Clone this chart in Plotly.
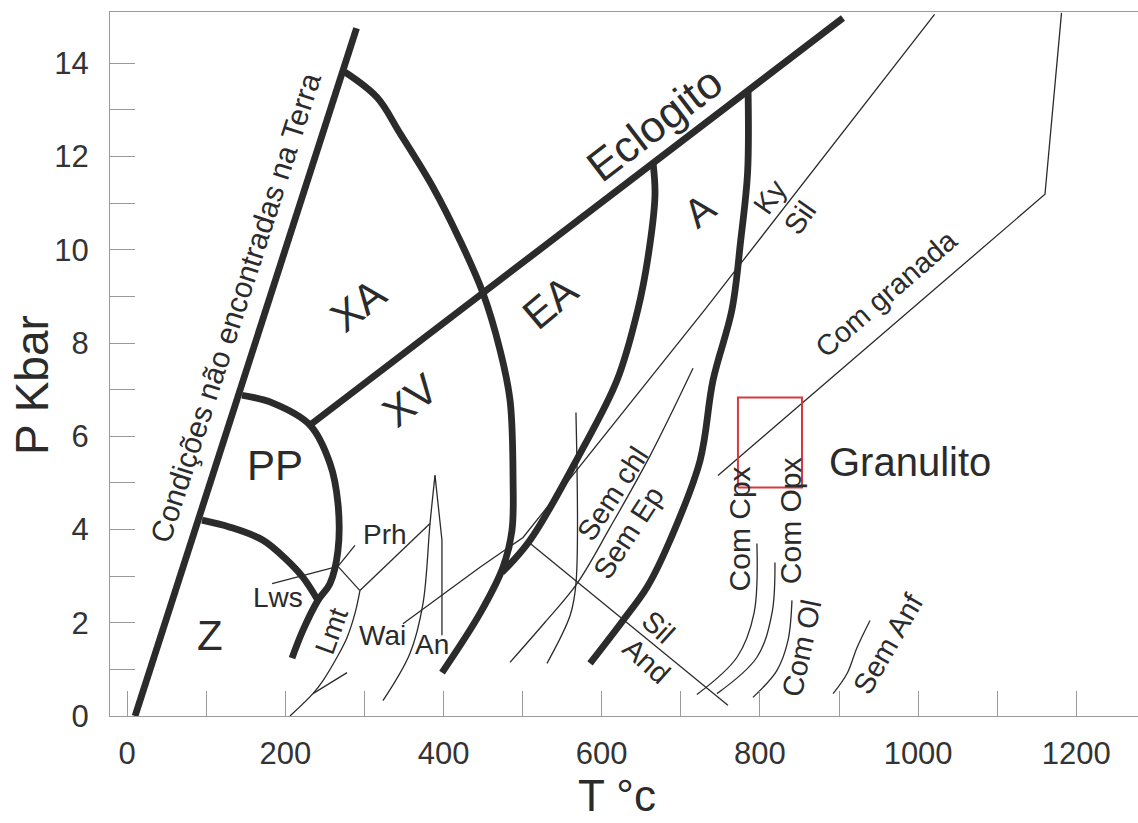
import plotly.graph_objects as go

# ---------------- axis ticks ----------------
x_tick_vals = [0, 100, 200, 300, 400, 500, 600, 700, 800, 900, 1000, 1100, 1200]
x_tick_text = ["0", "", "200", "", "400", "", "600", "", "800", "", "1000", "", "1200"]
y_tick_vals = [0, 1, 2, 3, 4, 5, 6, 7, 8, 9, 10, 11, 12, 13, 14]
y_tick_text = ["0", "", "2", "", "4", "", "6", "", "8", "", "10", "", "12", "", "14"]

# ---------------- thick facies boundaries (T in °C, P in kbar) ----------------
terra_T = [10, 290]
terra_P = [0.0, 14.75]

eclogito_T = [231, 905]
eclogito_P = [6.24, 14.97]

pp_T = [145.2, 184.3, 231.1, 256.4, 266.5, 266.5, 256.4, 241.2, 222.3, 208.4]
pp_P = [6.88, 6.71, 6.24, 5.42, 4.56, 3.55, 2.84, 2.48, 1.84, 1.24]

z_pp_T = [94.6, 130.0, 171.8, 202.2, 222.4, 241.2]
z_pp_P = [4.20, 4.05, 3.77, 3.34, 2.97, 2.48]

xa_ea_T = [275.4, 315.8, 344.9, 386.7, 420.8, 449.9, 471.4, 484.1, 487.9, 486.5, 475.2, 446.1, 398.1]
xa_ea_P = [13.81, 13.27, 12.50, 11.34, 10.20, 9.07, 7.85, 6.77, 5.06, 3.98, 3.19, 2.20, 0.93]

ea_a_T = [665.0, 667.3, 658.5, 645.7, 619.3, 572.5, 509.3, 473.9]
ea_a_P = [11.85, 11.16, 9.84, 8.72, 7.20, 5.63, 3.77, 3.08]

a_gran_T = [785.0, 784.4, 775.7, 764.7, 740.7, 724.3, 686.4, 657.2, 626.9, 585.2]
a_gran_P = [13.42, 11.66, 10.20, 8.72, 7.20, 5.48, 3.77, 2.76, 2.05, 1.13]

# ---------------- thin reaction lines ----------------
ky_T = [348.7, 446.1, 500.5, 731.9, 1020.8]
ky_P = [1.98, 3.19, 3.83, 8.75, 15.05]

and_sil_T = [509.6, 759.5]
and_sil_P = [3.70, 0.23]

sem_chl_T = [484.0, 528.3, 568.7, 610.4, 661.3, 715.4]
sem_chl_P = [1.15, 2.01, 2.84, 4.04, 5.59, 7.46]

vert_T = [567.4, 567.4, 560.1, 530.8]
vert_P = [6.51, 2.84, 2.16, 1.13]

an_T = [389.2, 398.0, 398.0]
an_P = [5.16, 3.77, 1.73]

wai_T = [389.2, 382.9, 374.0, 357.5, 323.4]
wai_P = [5.16, 4.13, 2.41, 1.34, 0.33]

prh_an_T = [294.3, 382.9]
prh_an_P = [2.69, 4.13]

lmt_T = [294.3, 288.0, 277.9, 265.3, 247.6, 234.9, 205.8]
lmt_P = [2.69, 2.20, 1.68, 1.26, 0.76, 0.48, 0.0]

lmt_branch_T = [234.9, 278.0]
lmt_branch_P = [0.48, 0.93]

lws_T = [183.2, 266.5]
lws_P = [2.84, 3.21]

prh_T = [266.5, 288.0]
prh_P = [3.21, 3.66]

link_T = [266.5, 294.3]
link_P = [3.21, 2.69]

com_cpx_T = [796.2, 792.5, 771.0, 720.3]
com_cpx_P = [3.70, 2.20, 1.26, 0.46]

com_opx_T = [819.0, 815.2, 796.2, 745.7]
com_opx_P = [3.29, 2.20, 1.26, 0.48]

com_ol_T = [840.5, 835.5, 821.6, 791.2]
com_ol_P = [2.48, 1.62, 0.98, 0.40]

sem_anf_T = [939.2, 922.8, 910.2, 892.5]
sem_anf_P = [2.05, 1.47, 0.91, 0.48]

granada_T = [747.0, 1160.4, 1181.3]
granada_P = [5.16, 11.19, 15.08]

box_T = [772.2, 853.2]
box_P = [4.90, 6.83]

# ---------------- labels ----------------
label_text = ["Condições não encontradas na Terra", "Eclogito", "XA", "XV", "EA", "A",
              "PP", "Z", "Granulito", "Prh", "Lws", "Lmt", "Wai", "An",
              "Sem chl", "Sem Ep", "Sil", "And", "Ky", "Sil", "Com granada",
              "Com Cpx", "Com Opx", "Com Ol", "Sem Anf"]
label_T = [136.6, 667.3, 291.8, 357.5, 534.6, 724.2,
           187.0, 104.7, 989.6, 325.9, 190.7, 258.9, 323.4, 385.4,
           613.0, 634.4, 671.1, 657.2, 812.5, 850.4, 960.6,
           774.6, 838.0, 853.2, 962.9]
label_P = [8.77, 12.71, 8.81, 6.77, 8.87, 10.85,
           5.38, 1.73, 5.44, 3.89, 2.54, 1.83, 1.73, 1.53,
           4.77, 3.94, 1.90, 1.19, 11.13, 10.68, 9.07,
           4.02, 4.20, 1.45, 1.56]

# styles for labels (angle, font size)
label_style = [(-72, 30), (-37.5, 44), (-38, 42), (-38, 42), (-40, 42), (-38, 40),
               (0, 42), (0, 42), (0, 40), (0, 28), (0, 28), (-70, 28), (0, 28), (0, 28),
               (-57, 29), (-57, 29), (42, 29), (42, 29), (-55, 29), (-55, 29), (-41, 29),
               (-90, 30), (-90, 30), (-78, 29), (-60, 29)]

INK = "#2b2b2b"
FONT = "Liberation Sans, Arial, sans-serif"

fig = go.Figure()

def add_line(T, P, width, shape="linear", color=INK):
    fig.add_trace(go.Scatter(x=T, y=P, mode="lines",
                             line=dict(color=color, width=width, shape=shape),
                             hoverinfo="skip", showlegend=False))

THICK = 6.8
THIN = 1.3

add_line(terra_T, terra_P, THICK)
add_line(eclogito_T, eclogito_P, THICK)
add_line(pp_T, pp_P, THICK, "spline")
add_line(z_pp_T, z_pp_P, THICK, "spline")
add_line(xa_ea_T, xa_ea_P, THICK, "spline")
add_line(ea_a_T, ea_a_P, THICK, "spline")
add_line(a_gran_T, a_gran_P, THICK, "spline")

add_line(ky_T, ky_P, THIN)
add_line(and_sil_T, and_sil_P, THIN)
add_line(sem_chl_T, sem_chl_P, THIN, "spline")
add_line(vert_T, vert_P, THIN, "spline")
add_line(an_T, an_P, THIN)
add_line(wai_T, wai_P, THIN, "spline")
add_line(prh_an_T, prh_an_P, THIN)
add_line(lmt_T, lmt_P, THIN, "spline")
add_line(lmt_branch_T, lmt_branch_P, THIN)
add_line(lws_T, lws_P, THIN)
add_line(prh_T, prh_P, THIN)
add_line(link_T, link_P, THIN)
add_line(com_cpx_T, com_cpx_P, THIN, "spline")
add_line(com_opx_T, com_opx_P, THIN, "spline")
add_line(com_ol_T, com_ol_P, THIN, "spline")
add_line(sem_anf_T, sem_anf_P, THIN, "spline")
add_line(granada_T, granada_P, THIN)

# red rectangle
fig.add_trace(go.Scatter(x=[box_T[0], box_T[1], box_T[1], box_T[0], box_T[0]],
                         y=[box_P[0], box_P[0], box_P[1], box_P[1], box_P[0]],
                         mode="lines", line=dict(color="#d63a3f", width=2),
                         hoverinfo="skip", showlegend=False))

for txt, t, p, (ang, sz) in zip(label_text, label_T, label_P, label_style):
    fig.add_annotation(x=t, y=p, xref="x", yref="y", text=txt, showarrow=False,
                       textangle=ang, font=dict(family=FONT, size=sz, color=INK),
                       xanchor="center", yanchor="middle")

# axis titles
fig.add_annotation(x=-0.076, y=0.47, xref="paper", yref="paper", text="P Kbar",
                   showarrow=False, textangle=-90, xanchor="center", yanchor="middle",
                   font=dict(family=FONT, size=46, color=INK))
fig.add_annotation(x=0.493, y=-0.113, xref="paper", yref="paper", text="T °c",
                   showarrow=False, xanchor="center", yanchor="middle",
                   font=dict(family=FONT, size=44, color=INK))

fig.update_layout(
    width=1138, height=823, autosize=False,
    margin=dict(l=110, r=0, t=12, b=107),
    paper_bgcolor="white", plot_bgcolor="white",
    font=dict(family=FONT, color="#333333"),
    xaxis=dict(range=[-21.7, 1278], tickvals=x_tick_vals, ticktext=x_tick_text,
               ticks="inside", ticklen=25, tickcolor="#9a9a9a", tickwidth=1,
               showline=True, linecolor="#9a9a9a", linewidth=1, mirror=True,
               showgrid=False, zeroline=False,
               tickfont=dict(family=FONT, size=31, color="#333333"),
               ticklabelstandoff=10),
    yaxis=dict(range=[0, 15.1], tickvals=y_tick_vals, ticktext=y_tick_text,
               ticks="inside", ticklen=25, tickcolor="#9a9a9a", tickwidth=1,
               showline=True, linecolor="#9a9a9a", linewidth=1,
               showgrid=False, zeroline=False,
               tickfont=dict(family=FONT, size=31, color="#333333"),
               ticklabelstandoff=14),
)

fig.write_html("out.html")
